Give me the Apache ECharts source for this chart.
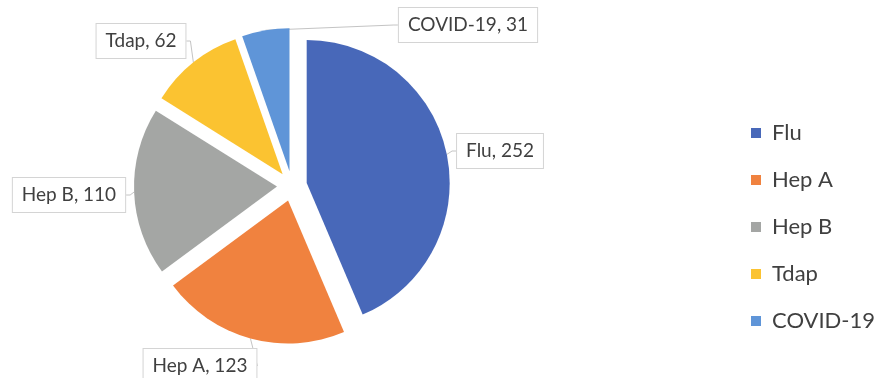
<!DOCTYPE html>
<html>
<head>
<meta charset="utf-8">
<script src="https://cdn.jsdelivr.net/npm/echarts@6/dist/echarts.min.js"></script>
<style>
  html, body { margin: 0; padding: 0; background: #ffffff; }
  #chart { width: 892px; height: 378px; }
</style>
</head>
<body>
<div id="chart"></div>
<script>
// Vaccines given, by type
const categories = ['Flu', 'Hep A', 'Hep B', 'Tdap', 'COVID-19'];
const counts = [252, 123, 110, 62, 31];

const sliceColors = ['#4868B9', '#F0823F', '#A4A6A4', '#FBC331', '#5F95D8'];

// Callout centres for each slice label (px)
const calloutSpots = [
  [500, 151],
  [200, 366],
  [69, 195],
  [141, 41],
  [468, 25]
];

const FONT = 'Lato, "Open Sans", sans-serif';
const PIE_CENTER = [292, 186];
const PIE_RADIUS = 143;
const EXPLODE = 15;

const chart = echarts.init(document.getElementById('chart'), null, { renderer: 'canvas' });

const pieData = categories.map(function (name, i) {
  return { name: name, value: counts[i] };
});

chart.setOption({
  animation: false,
  backgroundColor: '#ffffff',
  legend: {
    orient: 'vertical',
    left: 751,
    top: 122,
    padding: 0,
    itemWidth: 10,
    itemHeight: 10,
    itemGap: 25,
    icon: 'rect',
    selectedMode: false,
    textStyle: { fontFamily: FONT, fontSize: 22, lineHeight: 22, color: '#404040', padding: [0, 0, 0, 6] },
    data: categories
  },
  series: [
    {
      // exploded slices
      type: 'pie',
      name: 'slices',
      center: PIE_CENTER,
      radius: PIE_RADIUS,
      startAngle: 90,
      clockwise: true,
      selectedMode: 'multiple',
      selectedOffset: EXPLODE,
      itemStyle: { borderWidth: 0 },
      emphasis: { disabled: true },
      label: { show: false },
      labelLine: { show: false },
      data: pieData.map(function (d, i) {
        return { name: d.name, value: d.value, selected: true, itemStyle: { color: sliceColors[i] } };
      })
    },
    {
      // callout labels, on an invisible ring matching the exploded rim
      type: 'pie',
      name: 'callouts',
      center: PIE_CENTER,
      radius: PIE_RADIUS + EXPLODE,
      startAngle: 90,
      clockwise: true,
      silent: true,
      avoidLabelOverlap: false,
      itemStyle: { color: 'rgba(0,0,0,0)', borderWidth: 0 },
      emphasis: { disabled: true },
      label: {
        show: true,
        position: 'outside',
        formatter: '{b}, {c}',
        fontFamily: FONT,
        fontSize: 19,
        color: '#404040',
        backgroundColor: '#ffffff',
        borderColor: '#d4d4d4',
        borderWidth: 1,
        padding: [8, 9, 7, 9]
      },
      labelLine: {
        show: true,
        length: 4,
        length2: 4,
        lineStyle: { color: '#c4c4c4', width: 1 }
      },
      labelLayout: function (params) {
        const p = calloutSpots[params.dataIndex];
        return { x: p[0], y: p[1], align: 'center', verticalAlign: 'middle', hideOverlap: false };
      },
      data: pieData
    }
  ]
});
</script>
</body>
</html>
